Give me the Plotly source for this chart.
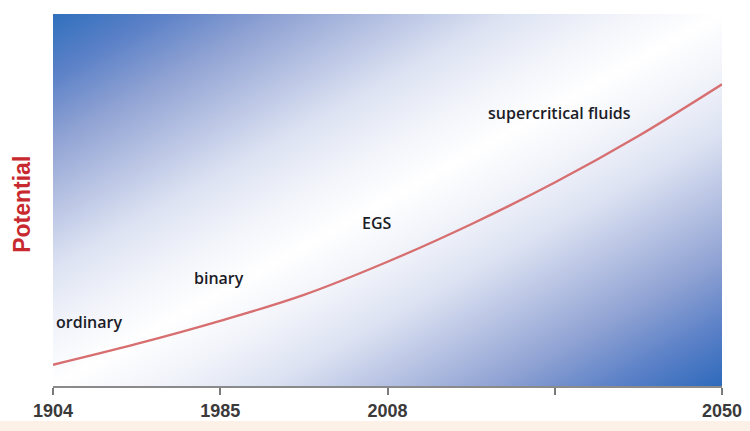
import base64
import plotly.graph_objects as go

# Timeline positions (evenly spaced) and their tick labels
stage_pos = [0, 1, 2, 3, 4]
tick_labels = ["1904", "1985", "2008", "", "2050"]

# Potential curve (relative units, 0-100)
curve_x = [0, 0.5, 1, 1.5, 2, 2.5, 3, 3.5, 4]
curve_y = [5.7, 11.3, 17.5, 24.5, 33.4, 43.5, 54.7, 67.2, 81.1]

# Technology labels placed along the curve
tech_names = ["ordinary", "binary", "EGS", "supercritical fluids"]
tech_x = [0.215, 0.99, 1.94, 3.03]
tech_y = [17.2, 29.1, 43.9, 73.3]

# Diagonal blue-white-blue background gradient as an inline SVG
stops = [
    (0.0, "#3070bd"), (0.08, "#5a80c7"), (0.17, "#8fa2d3"), (0.26, "#b9c4e4"),
    (0.34, "#dce2f2"), (0.42, "#f1f3fa"), (0.5, "#ffffff"), (0.58, "#f1f3fa"),
    (0.66, "#dce2f2"), (0.74, "#b9c4e4"), (0.83, "#8fa2d3"), (0.92, "#5a80c7"),
    (1.0, "#2e6abb"),
]
stop_xml = "".join(f'<stop offset="{o}" stop-color="{c}"/>' for o, c in stops)
svg = (
    '<svg xmlns="http://www.w3.org/2000/svg" width="100" height="100" '
    'viewBox="0 0 100 100" preserveAspectRatio="none">'
    '<defs><linearGradient id="g" x1="0" y1="0" x2="1" y2="1">'
    f"{stop_xml}</linearGradient></defs>"
    '<rect x="0" y="0" width="100" height="100" fill="url(#g)"/></svg>'
)
bg_src = "data:image/svg+xml;base64," + base64.b64encode(svg.encode()).decode()

fig = go.Figure()

fig.add_trace(go.Scatter(
    x=curve_x, y=curve_y, mode="lines",
    line=dict(color="#d76e70", width=2.3, shape="spline", smoothing=1.0),
    hoverinfo="skip", showlegend=False,
))

for name, tx, ty in zip(tech_names, tech_x, tech_y):
    fig.add_annotation(
        x=tx, y=ty, text=name, showarrow=False,
        font=dict(family="Open Sans, Arial", size=16, color="#1c1c28", weight=600),
        xanchor="center", yanchor="middle",
    )

# Axis title
fig.add_annotation(
    xref="paper", yref="paper", x=0, y=0.487, xshift=-31,
    text="Potential", textangle=-90, showarrow=False,
    font=dict(family="Liberation Sans, Arial", size=23, color="#c8292f", weight="bold"),
    xanchor="center", yanchor="middle",
)

# Pale peach band along the bottom edge
fig.add_shape(
    type="rect", xref="paper", yref="paper",
    x0=-0.08, x1=1.05, y0=-0.121, y1=-0.094,
    fillcolor="#fdf0e6", line=dict(width=0), layer="below",
)

fig.add_layout_image(
    source=bg_src, xref="x domain", yref="y domain",
    x=0, y=1, sizex=1, sizey=1, xanchor="left", yanchor="top",
    sizing="stretch", layer="below",
)

fig.update_layout(
    width=750, height=431,
    margin=dict(l=53, r=28, t=14, b=45, autoexpand=False),
    paper_bgcolor="white", plot_bgcolor="white",
    showlegend=False,
    xaxis=dict(
        range=[0, 4], tickmode="array", tickvals=stage_pos, ticktext=tick_labels,
        showgrid=False, zeroline=False, automargin=False,
        showline=True, linecolor="#8a8a8a", linewidth=2,
        ticks="outside", ticklen=7, tickwidth=1.5, tickcolor="#7a7a7a",
        tickfont=dict(family="Liberation Sans, Arial",
                      size=18, color="#3a3a3a", weight="bold"),
        fixedrange=True,
    ),
    yaxis=dict(
        range=[0, 100], showgrid=False, zeroline=False, showline=False,
        showticklabels=False, ticks="", fixedrange=True, automargin=False,
    ),
)

fig.write_html("out.html")
